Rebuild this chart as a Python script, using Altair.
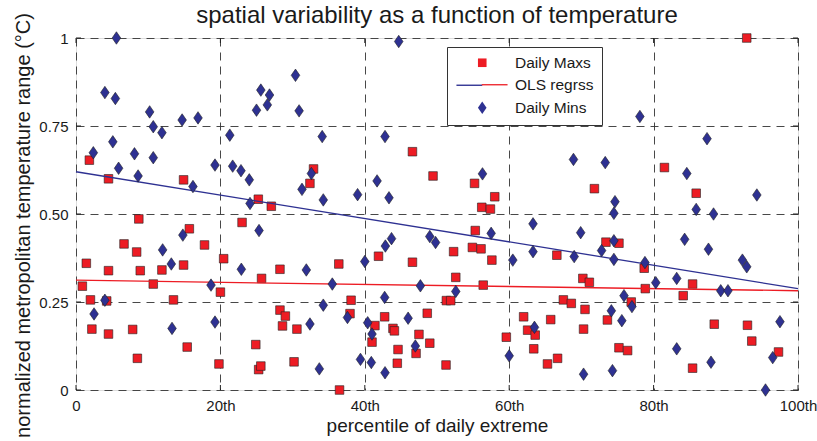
import altair as alt
import pandas as pd

# ---------------- data ----------------
max_x = [1.85, 4.5, 14.9, 8.7, 15.7, 6.65, 8.4, 1.43, 4.5, 8.9, 11.9, 14.9, 0.88, 10.7, 2.0, 4.25,
         13.5, 2.2, 4.5, 7.85, 15.4, 8.5, 32.9, 32.4, 25.25, 27.05, 23.0, 17.8, 20.45, 28.25, 25.7,
         20.0, 28.25, 29.0, 28.6, 30.6, 24.9, 19.8, 25.3, 25.6, 30.2, 46.6, 49.45, 41.9, 36.4, 46.6,
         38.1, 51.3, 37.95, 42.75, 48.65, 41.4, 43.9, 44.1, 47.5, 49.0, 41.0, 44.6, 47.1, 44.5, 51.25,
         36.5, 55.2, 58.0, 56.2, 57.4, 55.3, 52.3, 54.9, 56.1, 57.6, 66.6, 52.6, 56.4, 51.9, 62.0,
         65.75, 62.55, 63.6, 59.6, 63.4, 67.5, 68.6, 65.3, 66.7, 81.5, 85.9, 71.8, 73.4, 75.2, 78.7,
         70.2, 71.1, 78.85, 85.4, 84.1, 70.5, 76.9, 73.6, 70.3, 75.2, 76.4, 85.4, 92.9, 88.4, 93.0,
         93.6, 97.3]
max_y = [0.653, 0.600, 0.597, 0.486, 0.458, 0.415, 0.392, 0.360, 0.339, 0.339, 0.341, 0.355, 0.295,
         0.301, 0.256, 0.253, 0.256, 0.173, 0.159, 0.172, 0.122, 0.090, 0.628, 0.587, 0.542, 0.522,
         0.476, 0.412, 0.373, 0.343, 0.317, 0.278, 0.227, 0.210, 0.182, 0.173, 0.129, 0.074, 0.058,
         0.068, 0.080, 0.677, 0.608, 0.380, 0.358, 0.363, 0.255, 0.254, 0.217, 0.208, 0.218, 0.183,
         0.175, 0.168, 0.158, 0.133, 0.136, 0.115, 0.104, 0.076, 0.071, 0.000, 0.587, 0.549, 0.519,
         0.514, 0.453, 0.393, 0.405, 0.401, 0.369, 0.383, 0.320, 0.298, 0.254, 0.208, 0.200, 0.170,
         0.156, 0.150, 0.117, 0.256, 0.246, 0.074, 0.090, 0.632, 0.559, 0.572, 0.420, 0.417, 0.346,
         0.317, 0.306, 0.288, 0.301, 0.268, 0.229, 0.250, 0.199, 0.173, 0.120, 0.112, 0.062, 1.000,
         0.187, 0.184, 0.139, 0.108]

min_x = [5.6, 4.0, 5.45, 10.2, 10.7, 11.9, 14.7, 16.9, 5.1, 2.4, 8.1, 10.7, 5.9, 8.6, 16.2, 14.8,
         12.0, 13.2, 4.0, 2.5, 13.3, 30.4, 25.6, 26.8, 26.5, 25.0, 30.9, 21.3, 34.1, 19.25, 21.7,
         22.85, 24.0, 32.6, 31.3, 34.25, 24.1, 25.35, 22.9, 31.9, 18.7, 34.25, 19.25, 32.4, 33.7,
         44.7, 42.8, 41.7, 39.0, 43.35, 43.7, 42.85, 49.0, 49.8, 40.0, 35.5, 47.7, 42.75, 37.6, 40.4,
         41.0, 46.0, 47.0, 39.4, 40.9, 42.8, 56.3, 57.5, 63.3, 63.3, 60.5, 69.0, 68.9, 52.6, 63.5,
         60.0, 78.1, 73.3, 84.6, 74.65, 74.5, 85.9, 69.9, 84.3, 74.5, 72.8, 74.5, 78.8, 80.3, 83.2,
         75.9, 77.0, 74.15, 75.6, 83.2, 70.3, 74.3, 87.4, 94.3, 88.3, 87.6, 92.3, 92.9, 89.3, 90.3,
         97.5, 96.5, 87.95, 95.5]
min_y = [1.000, 0.845, 0.828, 0.790, 0.748, 0.731, 0.767, 0.773, 0.705, 0.674, 0.671, 0.660, 0.630,
         0.608, 0.578, 0.440, 0.398, 0.358, 0.255, 0.216, 0.175, 0.894, 0.852, 0.838, 0.810, 0.795,
         0.793, 0.724, 0.720, 0.639, 0.636, 0.623, 0.597, 0.615, 0.570, 0.540, 0.530, 0.453, 0.343,
         0.341, 0.298, 0.241, 0.193, 0.1875, 0.060, 0.990, 0.720, 0.594, 0.555, 0.546, 0.430, 0.409,
         0.436, 0.419, 0.365, 0.301, 0.296, 0.263, 0.206, 0.191, 0.159, 0.204, 0.125, 0.087, 0.078,
         0.049, 0.614, 0.445, 0.472, 0.393, 0.369, 0.379, 0.655, 0.280, 0.178, 0.097, 0.777, 0.646,
         0.615, 0.535, 0.502, 0.513, 0.447, 0.428, 0.424, 0.396, 0.371, 0.362, 0.305, 0.317, 0.268,
         0.237, 0.225, 0.197, 0.117, 0.045, 0.055, 0.714, 0.554, 0.500, 0.400, 0.369, 0.350, 0.282,
         0.282, 0.194, 0.092, 0.079, 0.000]

reg_x = [0, 100]
reg_max_y = [0.312, 0.282]
reg_min_y = [0.620, 0.288]

x_ticks = [0, 20, 40, 60, 80, 100]
x_tick_labels = ["0", "20th", "40th", "60th", "80th", "100th"]
y_ticks = [0, 0.25, 0.5, 0.75, 1]
y_tick_labels = ["0", "0.25", "0.50", "0.75", "1"]
series_names = ["Daily Maxs", "OLS regrss", "Daily Mins"]

title_text = "spatial variability as a function of temperature"
x_title = "percentile of daily extreme"
y_title = "normalized metropolitan temperature range (\u00b0C)"

# ---------------- styling ----------------
FONT = "Liberation Sans"
RED = "#ed1c24"
BLUE = "#2e3192"
INK = "#1a1a1a"
W, H = 722, 352
TICK_PX = 5
ROW_STEP = 22

max_df = pd.DataFrame({"x": max_x, "y": max_y, "series": "Daily Maxs"})
min_df = pd.DataFrame({"x": min_x, "y": min_y, "series": "Daily Mins"})
reg_df = pd.DataFrame({"x": reg_x, "ymax": reg_max_y, "ymin": reg_min_y, "leg": series_names[1]})

xs = alt.Scale(domain=[0, 100], nice=False, zero=False)
ys = alt.Scale(domain=[0, 1], nice=False, zero=False)


def label_expr(vals, labs):
    arr_l = "[" + ",".join("'%s'" % l for l in labs) + "]"
    arr_v = "[" + ",".join(str(v) for v in vals) + "]"
    return "%s[indexof(%s, datum.value)]" % (arr_l, arr_v)


axis_common = dict(
    grid=True, gridDash=[8, 6], gridColor="#333333", gridWidth=0.9, gridOpacity=1,
    domain=False, ticks=False, labelFont=FONT, labelFontSize=15, labelColor=INK,
    titleFont=FONT, titleFontWeight="normal", titleColor=INK,
    labelPadding=8, labelFlush=False, labelOverlap=False, labelBound=False,
)

x_axis = alt.Axis(values=x_ticks, labelExpr=label_expr(x_ticks, x_tick_labels),
                  title=x_title, titleFontSize=19, titlePadding=3, **axis_common)
y_axis = alt.Axis(values=y_ticks, labelExpr=label_expr(y_ticks, y_tick_labels),
                  title=y_title, titleFontSize=20, titlePadding=5, titleY=187, **axis_common)

shape_paths = ["M-1,-1H1V1H-1Z", "M-6,-0.16H0V0.16H-6Z", "M0,-1.45L1,0L0,1.45L-1,0Z"]

legend_geo = dict(orient="none", legendX=371, direction="vertical", padding=8,
                  labelFont=FONT, labelFontSize=15.5, symbolSize=74, rowPadding=5.5,
                  labelLimit=300, title=None)

legend_a = alt.Legend(fillColor="white", strokeColor="#333333", labelColor=INK, legendY=9,
                      symbolStrokeWidth=0, symbolOffset=19.5, labelOffset=25, **legend_geo)
# helper legend that only adds the red half of the regression-line swatch on row 2
legend_b = alt.Legend(labelColor="transparent", symbolType="M0,0H6", symbolStrokeWidth=1.3,
                      symbolStrokeColor=RED, legendY=9 + ROW_STEP, symbolOffset=19,
                      labelOffset=25, **legend_geo)

color_enc = alt.Color("series:N", scale=alt.Scale(domain=series_names, range=[RED, BLUE, BLUE]),
                      legend=legend_a)
shape_enc = alt.Shape("series:N", scale=alt.Scale(domain=series_names, range=shape_paths),
                      legend=legend_a)

base_x = alt.X("x:Q", scale=xs, axis=x_axis)
base_y = alt.Y("y:Q", scale=ys, axis=y_axis)

maxs = alt.Chart(max_df).mark_point(filled=True, size=74, opacity=1, stroke="#222222",
                                    strokeWidth=0.6).encode(x=base_x, y=base_y, color=color_enc,
                                                            shape=shape_enc)
mins = alt.Chart(min_df).mark_point(filled=True, size=74, opacity=1, stroke="#222222",
                                    strokeWidth=0.6).encode(x="x:Q", y="y:Q", color=color_enc,
                                                            shape=shape_enc)

line_min = alt.Chart(reg_df).mark_line(color=BLUE, strokeWidth=1.3).encode(
    x="x:Q", y=alt.Y("ymin:Q"))
line_max = alt.Chart(reg_df).mark_line(color=RED, strokeWidth=1.3).encode(
    x="x:Q", y=alt.Y("ymax:Q"),
    opacity=alt.Opacity("leg:N", scale=alt.Scale(type="ordinal", domain=[series_names[1]],
                                                 range=[1]),
                        legend=legend_b))

# inward tick marks on all four sides of the frame
tx = TICK_PX / H
ty = TICK_PX * 100 / W
xt_df = pd.DataFrame({"x": x_ticks * 2,
                      "y": [0.0] * len(x_ticks) + [1 - tx] * len(x_ticks),
                      "y2": [tx] * len(x_ticks) + [1.0] * len(x_ticks)})
yt_df = pd.DataFrame({"y": y_ticks * 2,
                      "x": [0.0] * len(y_ticks) + [100 - ty] * len(y_ticks),
                      "x2": [ty] * len(y_ticks) + [100.0] * len(y_ticks)})
xticks_layer = alt.Chart(xt_df).mark_rule(color="#222222", strokeWidth=1).encode(
    x="x:Q", y="y:Q", y2="y2:Q")
yticks_layer = alt.Chart(yt_df).mark_rule(color="#222222", strokeWidth=1).encode(
    x="x:Q", x2="x2:Q", y="y:Q")

chart = alt.layer(maxs, xticks_layer, yticks_layer, line_min, line_max, mins).properties(
    width=W, height=H,
    title=alt.Title(title_text, font=FONT, fontSize=24, fontWeight="normal", color=INK,
                    anchor="middle", offset=12, frame="group", dy=27),
    autosize=alt.AutoSizeParams(type="none"),
    padding={"left": 76, "top": 38, "right": 19, "bottom": 51},
).configure_view(stroke="#222222", strokeWidth=1.2).configure(background="white")

chart.save("out.html", embed_options={"renderer": "svg", "actions": False})
